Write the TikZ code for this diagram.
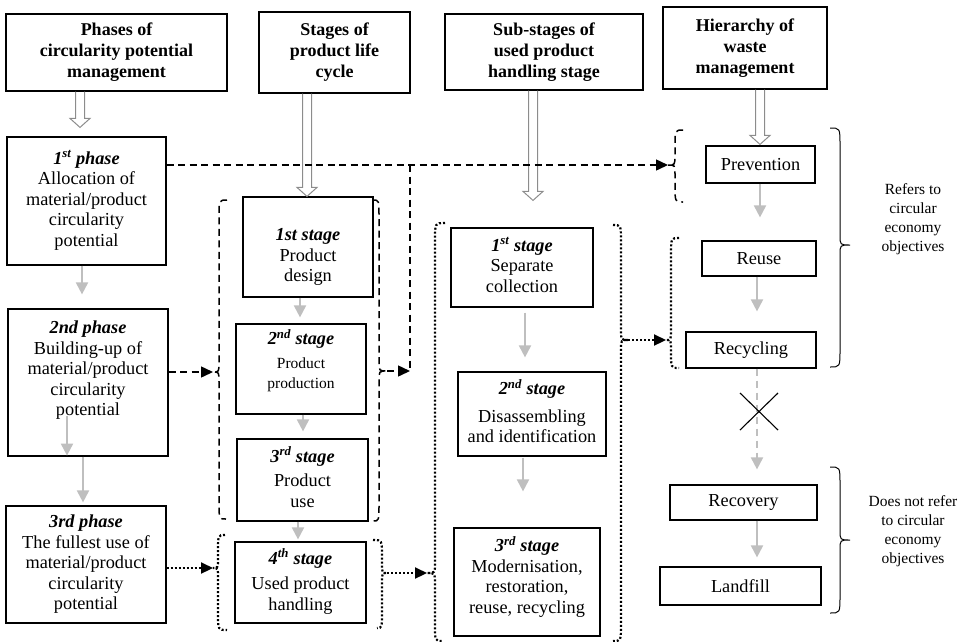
\documentclass[tikz,border=0pt]{standalone}
\usepackage{fontspec}
\setmainfont{Liberation Serif}
\usetikzlibrary{arrows.meta,calc}

% multi-line box text; optional argument lifts the text without changing the box
\newcommand\bx[2][0pt]{\raisebox{#1}[\height][\depth]{\begin{tabular}{@{}c@{}}#2\end{tabular}}}
\newcommand\lbl[1]{\textbf{\textit{#1}}}
\newcommand\sml{\fontsize{15.5}{19}\selectfont}

% bracket: style, top end (x,y), spine x, tip (x,y), bottom end (x,y)
\newcommand\brak[8]{%
  \draw[#1] (#2,#3) .. controls (#4,#3) .. (#4,{#3+17}) -- (#4,{#6-10})
    .. controls (#4,#6) .. (#5,#6) .. controls (#4,#6) .. (#4,{#6+10})
    -- (#4,{#8-17}) .. controls (#4,#8) .. (#7,#8);}

% open double-line arrow from #1 straight down to the height of #2
\newcommand\hollowarrow[2]{%
  \draw[hollowline] let \p1=#1, \p2=#2 in
    (\x1-4.5pt,\y1) -- (\x1-4.5pt,\y2+9pt) -- (\x1-10pt,\y2+9pt) -- (\x1,\y2)
    -- (\x1+10pt,\y2+9pt) -- (\x1+4.5pt,\y2+9pt) -- (\x1+4.5pt,\y1);}

\tikzset{
  box/.style={draw, line width=1.2pt, inner sep=0pt, font=\fontsize{18.3}{20.5}\selectfont},
  hdr/.style={box, font=\fontsize{18}{21}\selectfont\bfseries},
  sz/.style 2 args={minimum width=#1, minimum height=#2},
  note/.style={align=center, font=\fontsize{15.5}{19.2}\selectfont},
  garrow/.style={draw=black!25, line width=2pt, -{Triangle[length=12pt,width=12pt]}},
  gdash/.style={garrow, dash pattern=on 7pt off 5pt},
  hollowline/.style={draw=black!45, line width=1pt},
  dashline/.style={line width=1.5pt, dash pattern=on 7pt off 4.5pt},
  dotline/.style={line width=2.2pt, dash pattern=on 2pt off 2pt},
  blk/.style={-{Triangle[length=12pt,width=11pt]}},
  brace/.style={line width=1pt},
}

\begin{document}
\begin{tikzpicture}[x=1pt,y=-1pt]
\useasboundingbox (0,0) rectangle (967,641);

% column headers
\node[hdr, sz={221pt}{77pt}] (h1) at (116.5,52.5) {\bx{Phases of\\circularity potential\\management}};
\node[hdr, sz={151pt}{81pt}] (h2) at (334.5,52.5) {\bx{Stages of\\product life\\cycle}};
\node[hdr, sz={198pt}{76pt}] (h3) at (544,52) {\bx{Sub-stages of\\used product\\handling stage}};
\node[hdr, sz={164pt}{82pt}] (h4) at (745,48) {\bx{Hierarchy of\\waste\\management}};

% phases
\node[box, sz={159pt}{128pt}] (p1) at (86.5,201) {\bx{\lbl{1\textsuperscript{st} phase}\\Allocation of\\material/product\\circularity\\potential}};
\node[box, sz={160pt}{147pt}] (p2) at (88,382.5) {\bx[12pt]{\lbl{2nd phase}\\Building-up of\\material/product\\circularity\\potential}};
\node[box, sz={160pt}{117pt}] (p3) at (86,564.5) {\bx{\lbl{3rd phase}\\The fullest use of\\material/product\\circularity\\potential}};

% life cycle stages
\node[box, sz={130pt}{100pt}] (s1) at (308,247) {\bx[-10pt]{\lbl{1st stage}\\Product\\design}};
\node[box, sz={130pt}{90pt}] (s2) at (301,369) {\bx[7pt]{\lbl{2\textsuperscript{nd} stage}\\[3pt]{\sml Product}\\{\sml production}}};
\node[box, sz={131pt}{82pt}] (s3) at (302.5,480) {\bx{\lbl{3\textsuperscript{rd} stage}\\[4pt]Product\\use}};
\node[box, sz={131pt}{81pt}] (s4) at (300.5,582.5) {\bx{\lbl{4\textsuperscript{th} stage}\\[5pt]Used product\\handling}};

% sub-stages of used product handling
\node[box, sz={142pt}{79pt}] (u1) at (522,267.5) {\bx{\lbl{1\textsuperscript{st} stage}\\Separate\\collection}};
\node[box, sz={148pt}{84pt}] (u2) at (532,414) {\bx{\lbl{2\textsuperscript{nd} stage}\\[7pt]Disassembling\\and identification}};
\node[box, sz={146pt}{108pt}] (u3) at (527,582) {\bx[4pt]{\lbl{3\textsuperscript{rd} stage}\\Modernisation,\\restoration,\\reuse, recycling}};

% waste hierarchy
\node[box, sz={109pt}{37pt}] (w1) at (760.5,164.5) {Prevention};
\node[box, sz={114pt}{35pt}] (w2) at (759,258.5) {Reuse};
\node[box, sz={130pt}{36pt}] (w3) at (751,350) {Recycling};
\node[box, sz={147pt}{35pt}] (w4) at (743.5,502.5) {Recovery};
\node[box, sz={161pt}{38pt}] (w5) at (740.5,586) {Landfill};

% side notes
\node[note] (n1) at (913,219) {Refers to\\circular\\economy\\objectives};
\node[note] (n2) at (913,531) {Does not refer\\to circular\\economy\\objectives};

% header arrows
\hollowarrow{([xshift=-36.5pt]h1.south)}{([yshift=9pt]p1.north)}
\hollowarrow{([xshift=-27.5pt]h2.south)}{(s1.north)}
\hollowarrow{([xshift=-11pt]h3.south)}{([yshift=27pt]u1.north)}
\hollowarrow{([xshift=15pt]h4.south)}{([yshift=1pt]w1.north)}

% grey flow arrows
\draw[garrow] ([xshift=-4.5pt]p1.south) -- ([xshift=-6pt,yshift=14pt]p2.north);
\draw[garrow] ([xshift=-21pt,yshift=41pt]p2.south) -- ([xshift=-21pt,yshift=1pt]p2.south);
\draw[garrow] ([xshift=-5pt]p2.south) -- ([xshift=-3pt,yshift=3pt]p3.north);
\draw[garrow] ([xshift=-8pt]s1.south) -- ([xshift=-1pt,yshift=6pt]s2.north);
\draw[garrow] ([xshift=2pt]s2.south) -- ([xshift=0.5pt,yshift=7pt]s3.north);
\draw[garrow] ([xshift=-4.5pt]s3.south) -- ([xshift=-2.5pt,yshift=2pt]s4.north);
\draw[garrow] ([xshift=3pt,yshift=-5pt]u1.south) -- ([xshift=-7pt,yshift=14pt]u2.north);
\draw[garrow] ([xshift=-9pt,yshift=-1pt]u2.south) -- ([xshift=-4pt,yshift=36pt]u3.north);
\draw[garrow] ([xshift=-0.5pt]w1.south) -- ([xshift=1pt,yshift=23pt]w2.north);
\draw[garrow] ([xshift=-2pt]w2.south) -- ([xshift=6pt,yshift=20pt]w3.north);
\draw[gdash] ([xshift=6pt]w3.south) -- ([xshift=13.5pt,yshift=15pt]w4.north);
\draw[garrow] ([xshift=13.5pt]w4.south) -- ([xshift=16.5pt,yshift=9pt]w5.north);

% cross on the recycling-recovery link
\draw[line width=1.1pt] (740,393) -- (778,430) (740,430) -- (778,393);

% group brackets
\brak{dashline}{227}{200}{219}{213}{372}{226}{519}
\brak{dashline}{373}{200}{379}{387}{371}{373}{521}
\brak{dashline}{683}{130}{675}{668}{165}{683}{202}
\brak{dotline}{225}{535}{218}{213}{568}{227}{630}
\brak{dotline}{373}{540}{382}{387}{573}{377}{628}
\brak{dotline}{445}{223}{435}{427}{573}{442}{641}
\brak{dotline}{613}{225}{621}{628}{340}{613}{641}
\brak{dotline}{679}{238}{671}{666}{340}{679}{368}
\brak{brace}{830}{128}{840}{850}{245}{830}{367}
\brak{brace}{830}{467}{840}{850}{540}{830}{613}

% bracket tips and junction
\coordinate (sgl) at (213,372);
\coordinate (sgr) at (387,371);
\coordinate (pv)  at (668,165);
\coordinate (jn)  at (410,165);
\coordinate (s4l) at (213,568);
\coordinate (s4r) at (387,573);
\coordinate (sbl) at (427,573);
\coordinate (sbr) at (628,340);
\coordinate (rr)  at (666,340);

% dashed links
\draw[dashline, blk] (p1.east |- pv) -- (pv);
\draw[dashline] (jn) -- (jn |- sgr);
\draw[dashline, blk] (sgr) -- (jn |- sgr);
\draw[dashline, blk] (p2.east |- sgl) -- (sgl);

% dotted links
\draw[dotline, blk] (p3.east |- s4l) -- (s4l);
\draw[dotline, blk] (s4r) -- (sbl);
\draw[dotline, blk] (sbr) -- (rr);
\end{tikzpicture}
\end{document}
